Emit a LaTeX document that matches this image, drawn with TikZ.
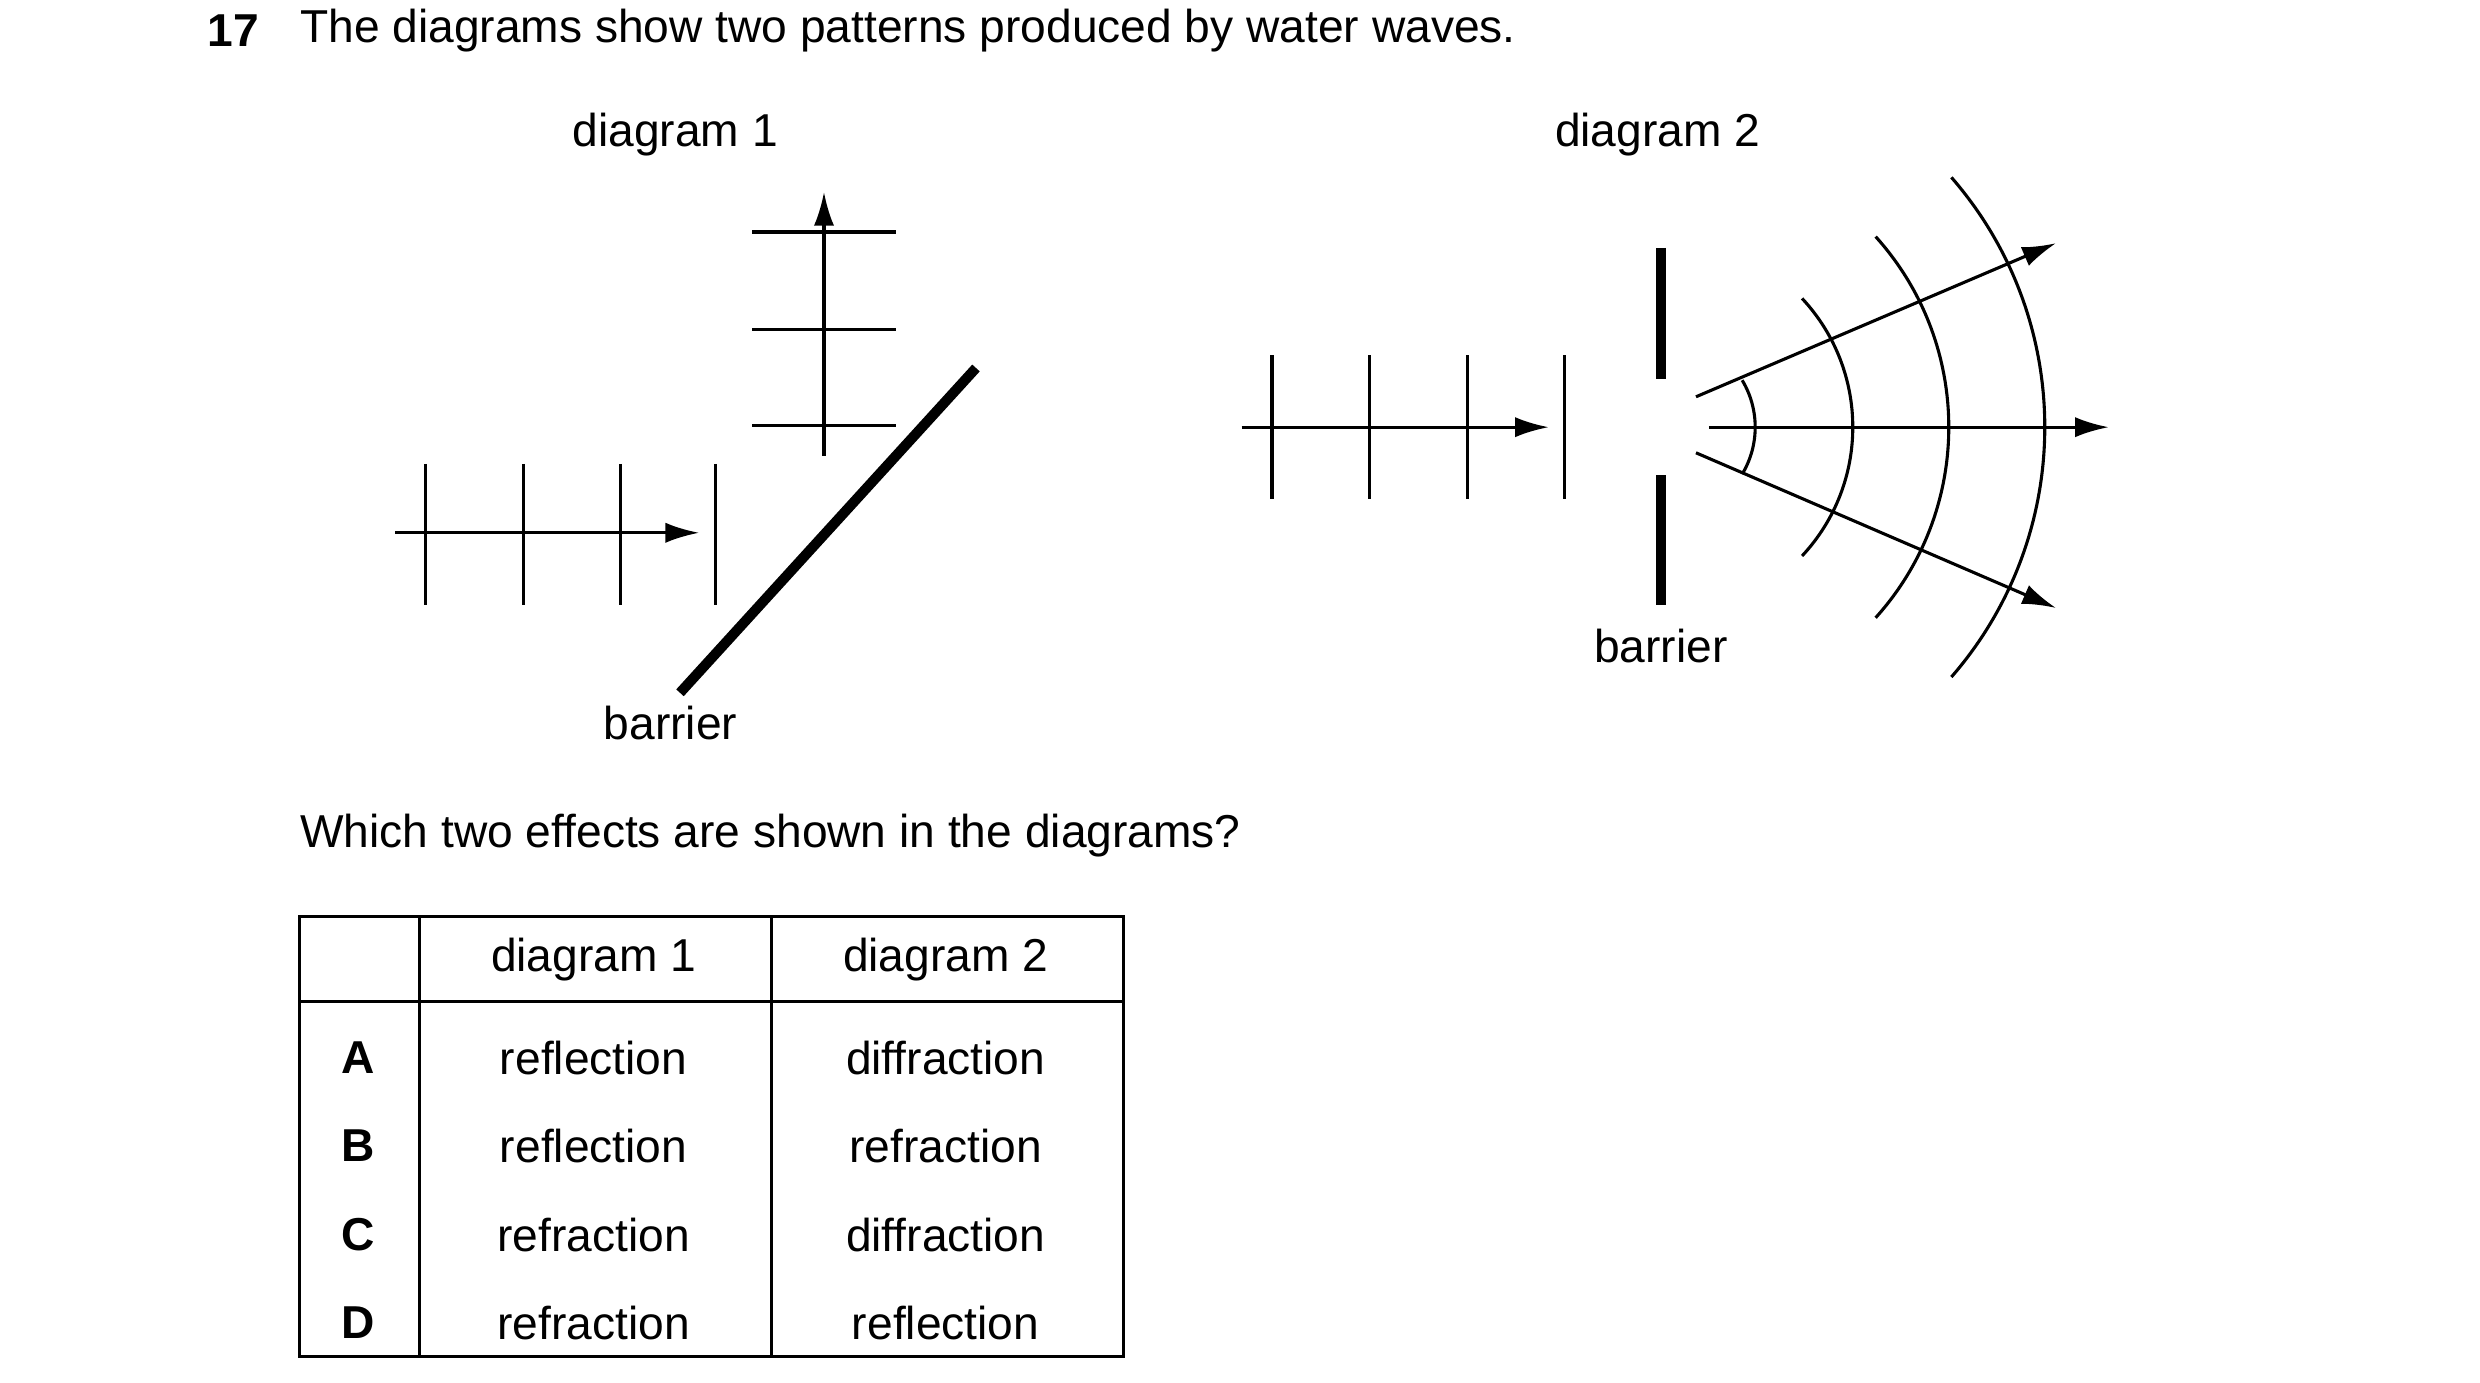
\documentclass[tikz,border=0pt]{standalone}
\usepackage{fontspec}
\setmainfont{Liberation Sans}
\usetikzlibrary{arrows.meta}
\begin{document}
\begin{tikzpicture}[x=0.01cm,y=-0.01cm,font=\fontsize{8.2}{10}\selectfont,
    ray/.style={line width=0.55pt,-{Latex[length=6pt,width=3.6pt]}},
    front/.style={line width=0.55pt},
    wall/.style={line width=1.8pt}]
    % Rahmen
    \useasboundingbox (0,0) rectangle (1550,864);
    \node[font=\fontsize{8.2}{10}\selectfont\bfseries] (qnum) at (146,19) {17};
    \node[anchor=west,inner sep=0] (title) at (187,19) {The diagrams show two patterns produced by water waves.};

    % Diagramm 1
    \node (lab1) at (422,84) {diagram 1};
    \coordinate (in1) at (247,333);
    \coordinate (in1e) at (437,333);
    \draw[ray] (in1) -- (in1e);
    \foreach \x in {266,327,388,447} \draw[front] (\x,290) -- (\x,378);
    \coordinate (bar1a) at (425,433);
    \coordinate (bar1b) at (610,230);
    \draw[wall] (bar1a) -- (bar1b);
    \coordinate (out1) at (515,285);
    \coordinate (out1e) at (515,120);
    \draw[ray] (out1) -- (out1e);
    \foreach \y in {145,206,266} \draw[front] (470,\y) -- (560,\y);
    \node (bar1lab) at (419,452) {barrier};

    % Diagramm 2
    \node (lab2) at (1036,84) {diagram 2};
    \coordinate (in2) at (776,267);
    \coordinate (in2e) at (968,267);
    \draw[ray] (in2) -- (in2e);
    \foreach \x in {795,856,917,978} \draw[front] (\x,222) -- (\x,312);
    \draw[wall] (1038,155) -- (1038,237);
    \draw[wall] (1038,297) -- (1038,378);
    \node (bar2lab) at (1038,404) {barrier};
    \coordinate (gap) at (1040,267);
    \draw[ray] (1060,248) -- (1285,152);
    \draw[ray] (1068,267) -- (1318,267);
    \draw[ray] (1060,283) -- (1285,380);
    \foreach \r/\a in {57/31,118/43,178/42,238/41}
        \draw[front] (gap) ++(-\a:\r) arc (-\a:\a:\r);

    % Tabelle
    \node[anchor=west,inner sep=0] (quest) at (187,522) {Which two effects are shown in the diagrams?};
    \draw[front] (187,573) rectangle (702,848);
    \draw[front] (262,573) -- (262,848);
    \draw[front] (482,573) -- (482,848);
    \draw[front] (187,626) -- (702,626);
    \node (h1) at (371,600) {diagram 1};
    \node (h2) at (591,600) {diagram 2};
    \foreach \l/\a/\b [count=\i] in {A/reflection/diffraction,B/reflection/refraction,C/refraction/diffraction,D/refraction/reflection}{
        \pgfmathsetmacro{\yy}{661+(\i-1)*55.3}
        \node[font=\fontsize{8.2}{10}\selectfont\bfseries] (k\i) at (224,\yy) {\l};
        \node (a\i) at (371,\yy) {\a};
        \node (b\i) at (591,\yy) {\b};
    }
\end{tikzpicture}
\end{document}
